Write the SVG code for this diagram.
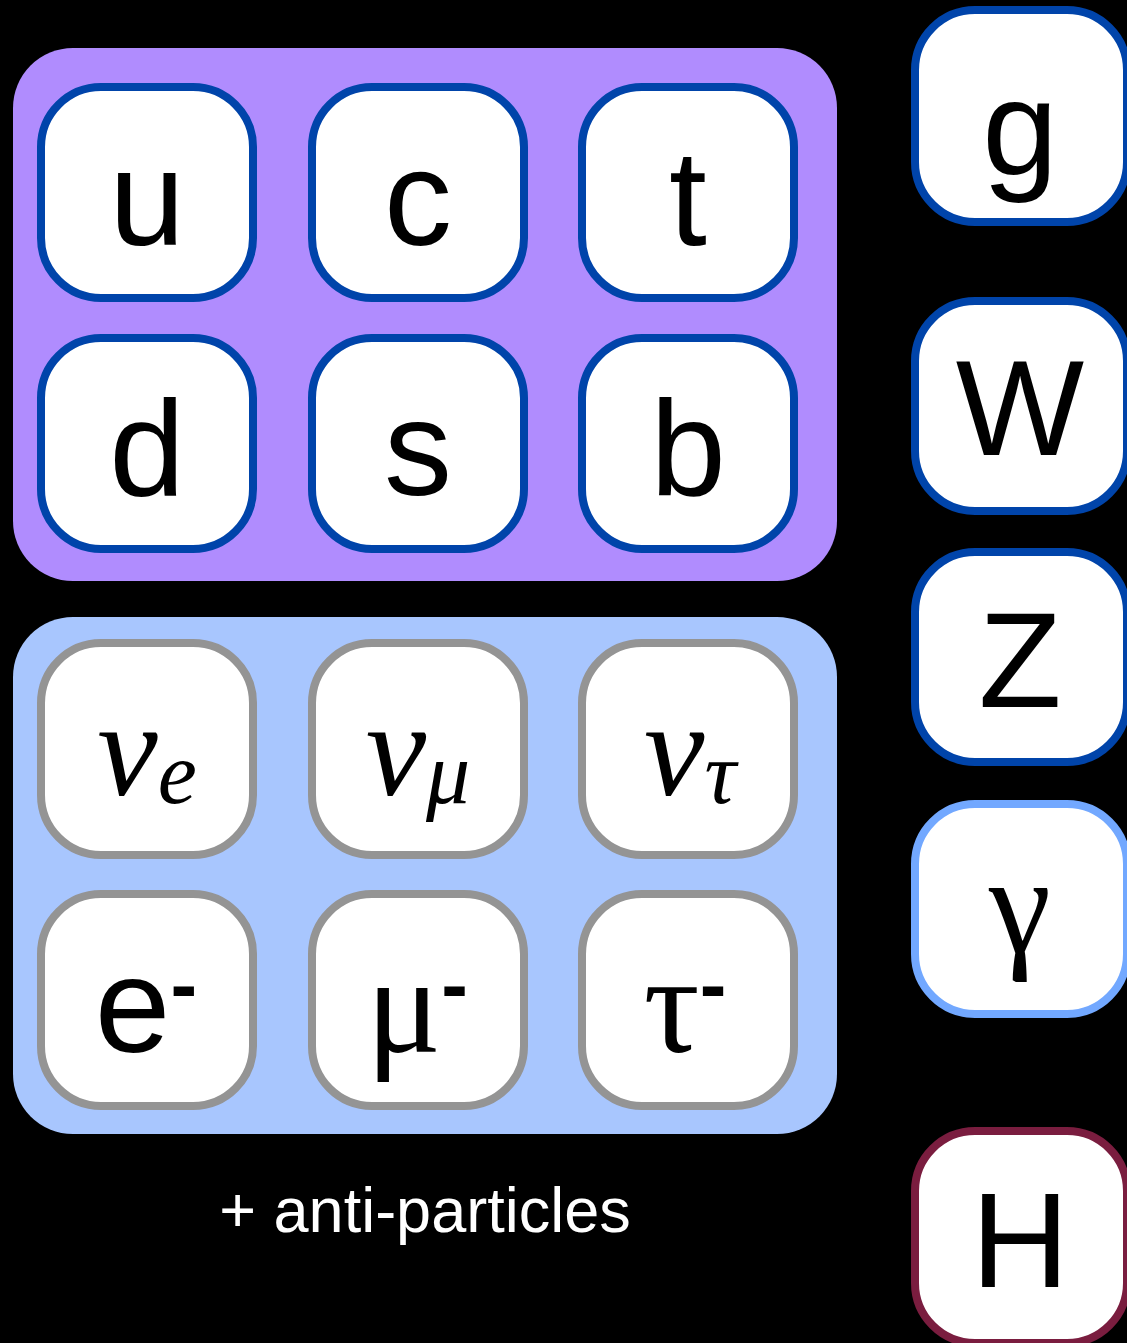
<svg xmlns="http://www.w3.org/2000/svg" width="1127" height="1343" viewBox="0 0 1127 1343">
<style>
.grp{stroke:none}
.n{fill:#ffffff;stroke-width:8}
.q{stroke:#0044aa}
.l{stroke:#949494}
.gm{stroke:#72a8ff}
.h{stroke:#7a1d3f}
.s{font-family:"Liberation Sans",Arial,sans-serif;font-size:136px;fill:#000;text-anchor:middle}
.sf{font-family:"Liberation Serif","Times New Roman",serif;fill:#000;text-anchor:middle}
</style>
<rect width="1127" height="1343" fill="#000"/>
<g id="quarks">
<rect class="grp" x="13" y="48" width="824" height="533" rx="60" fill="#b08cfe"/>
</g>
<g id="leptons">
<rect class="grp" x="13" y="617" width="824" height="517" rx="60" fill="#a8c6fe"/>
</g>
<g id="connectors"></g>
<g id="node-u"><rect class="n q" x="41" y="87" width="212" height="211" rx="60"/><text class="s" x="147" y="245">u</text></g>
<g id="node-c"><rect class="n q" x="312" y="87" width="212" height="211" rx="60"/><text class="s" x="418" y="245">c</text></g>
<g id="node-t"><rect class="n q" x="582" y="87" width="212" height="211" rx="60"/><text class="s" x="688" y="245">t</text></g>
<g id="node-d"><rect class="n q" x="41" y="338" width="212" height="211" rx="60"/><text class="s" x="147" y="495">d</text></g>
<g id="node-s"><rect class="n q" x="312" y="338" width="212" height="211" rx="60"/><text class="s" x="418" y="495">s</text></g>
<g id="node-b"><rect class="n q" x="582" y="338" width="212" height="211" rx="60"/><text class="s" x="688" y="495">b</text></g>
<g id="node-nue"><rect class="n l" x="41" y="643" width="212" height="212" rx="60"/><text class="sf" x="147" y="795" font-style="italic" font-size="136">ν<tspan font-size="88" dy="8">e</tspan></text></g>
<g id="node-numu"><rect class="n l" x="312" y="643" width="212" height="212" rx="60"/><text class="sf" x="418" y="795" font-style="italic" font-size="136">ν<tspan font-size="88" dy="8">μ</tspan></text></g>
<g id="node-nutau"><rect class="n l" x="582" y="643" width="212" height="212" rx="60"/><text class="sf" x="690" y="795" font-style="italic" font-size="136">ν<tspan font-size="88" dy="8">τ</tspan></text></g>
<g id="node-e"><rect class="n l" x="41" y="894" width="212" height="212" rx="60"/><text class="s" x="146" y="1052" font-size="140">e<tspan font-size="80" font-weight="bold" dy="-40">-</tspan></text></g>
<g id="node-mu"><rect class="n l" x="312" y="894" width="212" height="212" rx="60"/><text class="sf" x="417" y="1052" font-size="140">μ<tspan font-family="Liberation Sans,sans-serif" font-size="80" font-weight="bold" dy="-40">-</tspan></text></g>
<g id="node-tau"><rect class="n l" x="582" y="894" width="212" height="212" rx="60"/><text class="sf" x="685" y="1052" font-size="140">τ<tspan font-family="Liberation Sans,sans-serif" font-size="80" font-weight="bold" dy="-40">-</tspan></text></g>
<g id="node-g"><rect class="n q" x="915" y="10" width="212" height="212" rx="60"/><text class="s" x="1020" y="175" font-size="142">g</text></g>
<g id="node-W"><rect class="n q" x="915" y="301" width="212" height="210" rx="60"/><text class="s" x="1020" y="455">W</text></g>
<g id="node-Z"><rect class="n q" x="915" y="552" width="212" height="210" rx="60"/><text class="s" x="1020" y="707">Z</text></g>
<g id="node-gamma"><rect class="n gm" x="915" y="804" width="212" height="210" rx="60"/><text class="sf" x="1020" y="952" font-size="140">γ</text></g>
<g id="node-H"><rect class="n h" x="915" y="1131" width="212" height="212" rx="60"/><text class="s" x="1020" y="1287">H</text></g>
<text x="425" y="1232" font-family="Liberation Sans,Arial,sans-serif" font-size="63" fill="#ffffff" text-anchor="middle">+ anti-particles</text>
</svg>
